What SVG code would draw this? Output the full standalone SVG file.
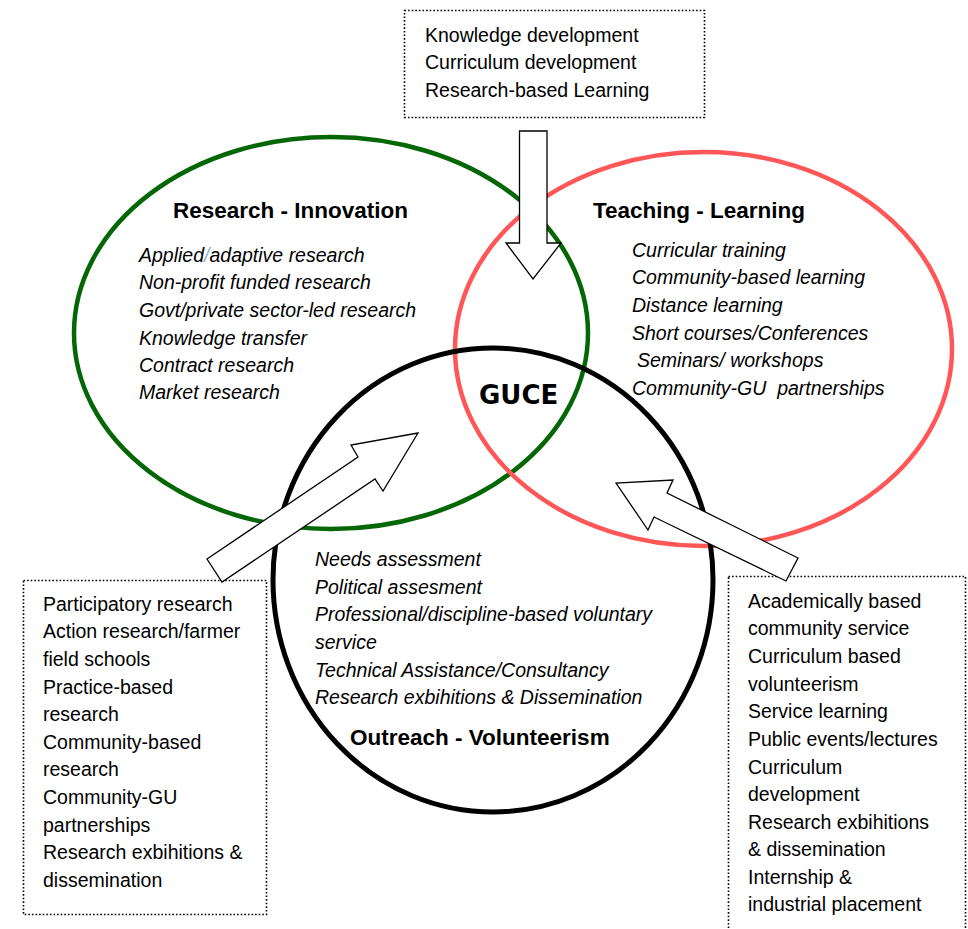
<svg xmlns="http://www.w3.org/2000/svg" width="968" height="929" viewBox="0 0 968 929">
<style>
text{font-family:"Liberation Sans",Arial,sans-serif;fill:#000}
.it{font-style:italic;font-size:19.5px}
.hd{font-weight:bold;font-size:22.5px}
.bx{font-size:19.5px}
.box{fill:#fff;stroke:#000;stroke-width:1.6;stroke-dasharray:1.6 2}
.arrow{fill:#fff;stroke:#000;stroke-width:1.3;stroke-linejoin:miter}
</style>
<rect width="968" height="929" fill="#fff"/>
<g id="research-innovation">
<ellipse cx="331" cy="333" rx="257" ry="196" fill="none" stroke="#056605" stroke-width="4.5"/>
<text class="hd" x="173" y="218">Research - Innovation</text>
<text class="it" x="139" y="262">Applied<tspan fill="#8eaadb">/</tspan>adaptive research</text>
<text class="it" x="139" y="289">Non-profit funded research</text>
<text class="it" x="139" y="317">Govt/private sector-led research</text>
<text class="it" x="139" y="345">Knowledge transfer</text>
<text class="it" x="139" y="372">Contract research</text>
<text class="it" x="139" y="399">Market research</text>
</g>
<g id="teaching-learning">
<ellipse cx="703.5" cy="349" rx="248.5" ry="197" fill="none" stroke="#ff5757" stroke-width="4.5"/>
<text class="hd" x="593" y="218">Teaching - Learning</text>
<text class="it" x="632" y="257">Curricular training</text>
<text class="it" x="632" y="284">Community-based learning</text>
<text class="it" x="632" y="312">Distance learning</text>
<text class="it" x="632" y="340">Short courses/Conferences</text>
<text class="it" x="637" y="367">Seminars/ workshops</text>
<text class="it" x="632" y="395" xml:space="preserve">Community-GU  partnerships</text>
</g>
<g id="outreach-volunteerism">
<ellipse cx="493" cy="580" rx="220" ry="232" fill="none" stroke="#000" stroke-width="5"/>
<text class="it" x="315" y="566">Needs assessment</text>
<text class="it" x="315" y="594">Political assesment</text>
<text class="it" x="315" y="621">Professional/discipline-based voluntary</text>
<text class="it" x="315" y="649">service</text>
<text class="it" x="315" y="677">Technical Assistance/Consultancy</text>
<text class="it" x="315" y="704">Research exbihitions &amp; Dissemination</text>
<text class="hd" x="350" y="745">Outreach - Volunteerism</text>
</g>
<g id="guce">
<text x="479" y="404" style="font-family:'DejaVu Sans',Verdana,sans-serif;font-weight:bold;font-size:26px">GUCE</text>
</g>
<g id="top-box">
<rect class="box" x="404.5" y="10.5" width="300" height="107"/>
<text class="bx" x="425" y="42">Knowledge development</text>
<text class="bx" x="425" y="69">Curriculum development</text>
<text class="bx" x="425" y="97">Research-based Learning</text>
</g>
<g id="left-box">
<rect class="box" x="23.5" y="580.5" width="243" height="334"/>
<text class="bx" x="43" y="611">Participatory research</text>
<text class="bx" x="43" y="638">Action research/farmer</text>
<text class="bx" x="43" y="666">field schools</text>
<text class="bx" x="43" y="694">Practice-based</text>
<text class="bx" x="43" y="721">research</text>
<text class="bx" x="43" y="749">Community-based</text>
<text class="bx" x="43" y="776">research</text>
<text class="bx" x="43" y="804">Community-GU</text>
<text class="bx" x="43" y="832">partnerships</text>
<text class="bx" x="43" y="859">Research exbihitions &amp;</text>
<text class="bx" x="43" y="887">dissemination</text>
</g>
<g id="right-box">
<rect class="box" x="728.5" y="576.5" width="237" height="360"/>
<text class="bx" x="748" y="608">Academically based</text>
<text class="bx" x="748" y="635">community service</text>
<text class="bx" x="748" y="663">Curriculum based</text>
<text class="bx" x="748" y="691">volunteerism</text>
<text class="bx" x="748" y="718">Service learning</text>
<text class="bx" x="748" y="746">Public events/lectures</text>
<text class="bx" x="748" y="774">Curriculum</text>
<text class="bx" x="748" y="801">development</text>
<text class="bx" x="748" y="829">Research exbihitions</text>
<text class="bx" x="748" y="856">&amp; dissemination</text>
<text class="bx" x="748" y="884">Internship &amp;</text>
<text class="bx" x="748" y="911">industrial placement</text>
</g>
<g id="connectors">
<polygon class="arrow" points="519.5,131 547,131 547,243 561,243 533,279 506,243 519.5,243"/>
<polygon class="arrow" points="207,559 358,457 351,445 418,433 383,491 375,479 222,582"/>
<polygon class="arrow" points="798,558 667,493 673,480 616,483 648,530 654,517 786,581"/>
</g>
</svg>
